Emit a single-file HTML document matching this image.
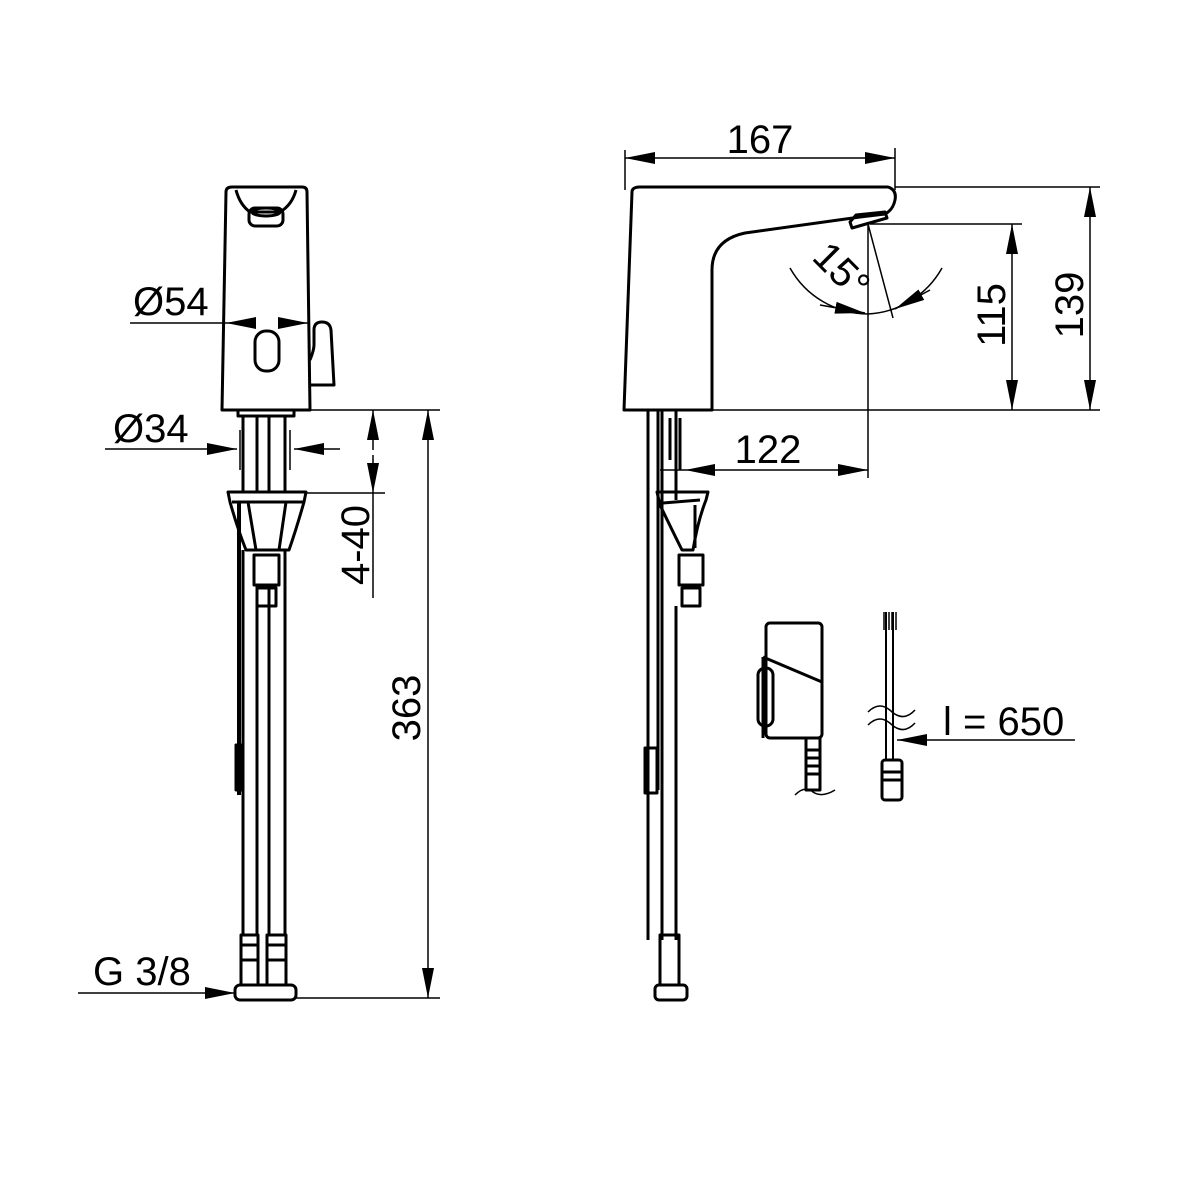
<!DOCTYPE html>
<html><head><meta charset="utf-8"><style>html,body{margin:0;padding:0;background:#fff}svg{display:block}</style></head>
<body>
<svg width="1200" height="1200" viewBox="0 0 1200 1200" xmlns="http://www.w3.org/2000/svg" font-family="Liberation Sans, sans-serif">
<defs>
<marker id="a" viewBox="0 0 30 12" refX="30" refY="6" markerWidth="30" markerHeight="12" markerUnits="userSpaceOnUse" orient="auto-start-reverse"><path d="M0,0L30,6L0,12z" fill="#000"/></marker>
</defs>
<g fill="none" stroke="#000" stroke-width="3" stroke-linejoin="round">
<path d="M226,192 Q226,187 232,187 L302,187 Q307,187 307,192 L310,410 L222,410 Z"/>
<path d="M236,190 Q240,205 250,212 L280,212 Q292,205 296,190"/>
<rect x="249" y="208" width="34" height="18" rx="6"/>
<ellipse cx="266" cy="212" rx="14" ry="4"/>
<rect x="255" y="331" width="24" height="40" rx="11"/>
<path d="M310,360 Q314,350 314,345 L314,330 Q314,322 322,322 Q330,322 331,330 L334,385 L310,385"/>
<path d="M238,410 L238,416 L294,416 L294,410"/>
<path d="M243,416 V492 M257,416 V492 M269,416 V492 M285,416 V492"/>
<path d="M228,492 H306 L304,502 Q296,530 289,550 H246 Q238,530 230,502 Z"/>
<path d="M232,502 H303 M248,502 L256,550 M286,502 L279,550"/>
<rect x="254" y="555" width="25" height="30"/>
<rect x="257" y="588" width="19" height="18"/>
<path d="M243,550 V935 M257,585 V935 M269,585 V935 M285,550 V935"/>
<path d="M239,502 V795" stroke-width="4"/>
<rect x="236" y="745" width="6" height="45" fill="#000"/>
<rect x="241" y="935" width="17" height="50"/>
<rect x="267" y="935" width="19" height="50"/>
<path d="M241,945 H258 M267,945 H286 M241,960 H258 M267,960 H286"/>
<rect x="235" y="985" width="61" height="15" rx="5"/>
<g stroke-width="1.5">
<path d="M130,323 H226" /><path d="M255,323 H226" marker-end="url(#a)"/><path d="M278,323 H308" marker-end="url(#a)"/>
<path d="M105,449 H237" marker-end="url(#a)"/><path d="M340,449 H294" marker-end="url(#a)"/>
<path d="M240,430 V470 M290,430 V470"/>
<path d="M310,410 H440 M307,493 H385 M296,998 H440"/>
<path d="M373,450 V410" marker-end="url(#a)"/><path d="M373,455 V493" marker-end="url(#a)"/><path d="M373,493 V598"/>
<path d="M428,700 V410" marker-end="url(#a)"/><path d="M428,700 V998" marker-end="url(#a)"/>
<path d="M78,993 H235" marker-end="url(#a)"/>
</g>
<path d="M632,192 Q632,187 640,187 L888,187 Q897,190 895,200 Q893,210 885,214 L860,217 L745,233 Q712,240 712,270 L712,410 L624,410 Z"/>
<path d="M850,222 L856,215 L885,212 L887,218 L852,228 Z"/>
<path d="M648,410 V940 M658,410 V790 M662,410 V940 M676,410 V500"/>
<path d="M670,418 V460 M680,418 V470"/>
<path d="M657,492 H708 L706,500 Q698,520 693,550 H682 Q672,530 660,505 Z"/>
<path d="M663,503 L700,500 M695,505 V548"/>
<rect x="679" y="555" width="24" height="30"/>
<rect x="682" y="588" width="18" height="18"/>
<path d="M676,606 V940"/>
<rect x="645" y="748" width="12" height="45"/>
<rect x="660" y="935" width="19" height="50"/>
<rect x="655" y="985" width="32" height="15" rx="4"/>
<g stroke-width="1.5">
<path d="M625,150 V190 M895,148 V190"/>
<path d="M760,158 H625" marker-end="url(#a)"/><path d="M760,158 H895" marker-end="url(#a)"/>
<path d="M895,187 H1100 M870,224 H1022 M712,410 H1100"/>
<path d="M1090,300 V187" marker-end="url(#a)"/><path d="M1090,300 V410" marker-end="url(#a)"/>
<path d="M1012,300 V224" marker-end="url(#a)"/><path d="M1012,300 V410" marker-end="url(#a)"/>
<path d="M868,224 V478 M868,224 L893,318"/>
<path d="M790,268 A90,90 0 0 0 868,314"/>
<path d="M868,314 A90,90 0 0 0 942,268"/>
<path d="M820,305 L865,313" marker-end="url(#a)"/><path d="M930,290 L895,309" marker-end="url(#a)"/>
<path d="M760,470 H685" marker-end="url(#a)"/><path d="M760,470 H868" marker-end="url(#a)"/>
<path d="M660,470 H685"/>
<path d="M1075,740 H897" marker-end="url(#a)"/>
</g>
<rect x="766" y="623" width="56" height="115" rx="4"/>
<path d="M763,657 L822,682 M763,657 V738"/>
<rect x="758" y="668" width="15" height="58" rx="7"/>
<rect x="806" y="738" width="14" height="52"/>
<path d="M806,750 H820 M806,758 H820 M806,766 H820 M806,774 H820"/>
<path d="M795,795 Q805,785 813,792 Q822,798 835,790" stroke-width="1.5"/>
<path d="M886,612 V760 M893,612 V760" stroke-width="2"/>
<path d="M884,612 V630 M889,612 V630 M892,612 V630 M896,612 V630" stroke-width="1.5"/>
<path d="M868,712 Q880,700 892,712 Q904,722 915,710 M868,725 Q880,713 892,725 Q904,735 915,723" stroke-width="1.5"/>
<rect x="882" y="760" width="20" height="40" rx="3"/>
<path d="M882,772 H902 M882,780 H902"/>
</g>
<g font-size="40" fill="#000">
<text x="133" y="315">Ø54</text>
<text x="113" y="442">Ø34</text>
<text x="93" y="985">G 3/8</text>
<text x="760" y="153" text-anchor="middle">167</text>
<text x="768" y="463" text-anchor="middle">122</text>
<text x="943" y="735">l = 650</text>
<text transform="translate(369,545) rotate(-90)" text-anchor="middle">4-40</text>
<text transform="translate(420,708) rotate(-90)" text-anchor="middle">363</text>
<text transform="translate(1005,315) rotate(-90)" text-anchor="middle">115</text>
<text transform="translate(1083,305) rotate(-90)" text-anchor="middle">139</text>
<text transform="translate(832,280) rotate(45)" text-anchor="middle">15°</text>
</g>
</svg>
</body></html>
